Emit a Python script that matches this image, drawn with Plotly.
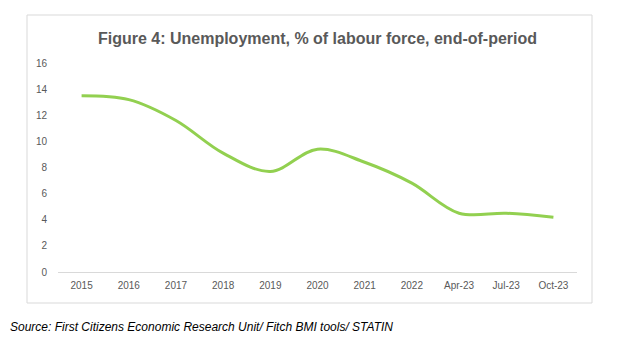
import plotly.graph_objects as go

categories = ["2015", "2016", "2017", "2018", "2019", "2020", "2021", "2022", "Apr-23", "Jul-23", "Oct-23"]
unemployment = [13.5, 13.2, 11.6, 9.1, 7.7, 9.4, 8.4, 6.8, 4.5, 4.5, 4.2]
y_ticks = [0, 2, 4, 6, 8, 10, 12, 14, 16]

font = "Liberation Sans, Arial, sans-serif"
grey = "#595959"

# page body has an 8px margin, so the figure is laid out 8px smaller
W, H = 611, 352

fig = go.Figure()
fig.add_trace(go.Scatter(
    x=categories, y=unemployment, mode="lines",
    line=dict(color="#92D050", width=3, shape="spline", smoothing=1.0),
    hoverinfo="x+y", showlegend=False,
))

fig.update_layout(
    width=W, height=H,
    margin=dict(l=50, r=42, t=55, b=88),
    paper_bgcolor="white", plot_bgcolor="white",
    title=dict(text="<b>Figure 4: Unemployment, % of labour force, end-of-period</b>",
               x=0.5, xref="paper", xanchor="center", y=1 - 30 / H, yanchor="middle",
               font=dict(family=font, size=16, color=grey)),
    xaxis=dict(type="category", range=[-0.5, len(categories) - 0.5],
               showgrid=False, showline=True, linecolor="#d9d9d9", linewidth=1,
               ticks="", ticklabelstandoff=4,
               tickfont=dict(family=font, size=10, color=grey), zeroline=False),
    yaxis=dict(range=[0, 16], tickvals=y_ticks, showgrid=False, showline=False, zeroline=False,
               ticks="", ticklabelstandoff=10,
               tickfont=dict(family=font, size=10, color=grey)),
    shapes=[dict(type="rect", xref="paper", yref="paper",
                 x0=(27 - 58) / 519, x1=(592 - 58) / 519,
                 y0=(272 - 303) / 209, y1=(272 - 15) / 209,
                 line=dict(color="#d9d9d9", width=1), fillcolor="rgba(0,0,0,0)", layer="below")],
    annotations=[dict(text="<i>Source: First Citizens Economic Research Unit/ Fitch BMI tools/ STATIN</i>",
                      xref="paper", yref="paper", x=(8 - 58) / 519, y=(272 - 327) / 209,
                      xanchor="left", yanchor="middle", showarrow=False,
                      font=dict(family=font, size=12, color="#000000"))],
)

fig.write_html("out.html")
